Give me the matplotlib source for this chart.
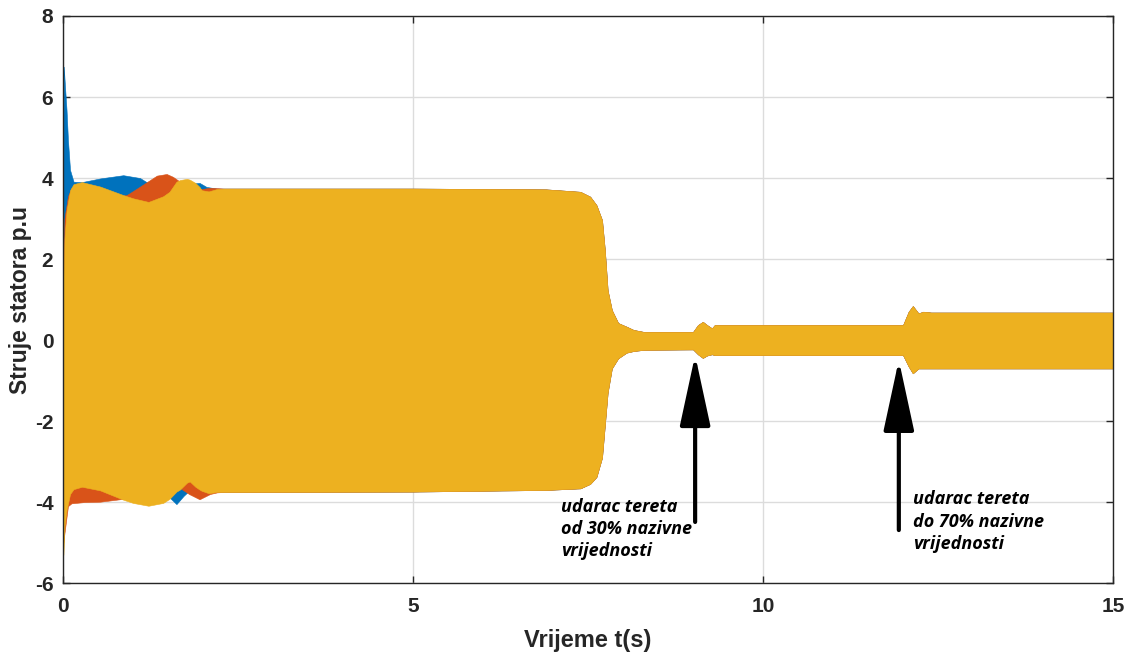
import matplotlib
matplotlib.use("Agg")
import matplotlib.pyplot as plt
import numpy as np

plt.rcParams['font.family'] = ['Liberation Sans', 'DejaVu Sans']
plt.rcParams['axes.unicode_minus'] = False

# envelopes of the three stator currents
# shared part after the start-up transient
tail_t  = [2.3, 5.0, 6.9, 7.39, 7.53, 7.62, 7.7, 7.74, 7.78, 7.84, 7.93, 8.05, 8.15, 8.3,
           9.0, 9.07, 9.14, 9.2, 9.27, 9.31, 12.0, 12.08, 12.14, 12.22, 12.29, 12.4, 15.0]
tail_up = [3.74, 3.74, 3.72, 3.66, 3.54, 3.33, 2.96, 2.22, 1.23, 0.74, 0.42, 0.33, 0.25, 0.2,
           0.2, 0.37, 0.45, 0.37, 0.29, 0.37, 0.37, 0.7, 0.84, 0.66, 0.7, 0.68, 0.68]
tail_lo = [-3.75, -3.74, -3.7, -3.66, -3.55, -3.38, -2.9, -2.1, -1.3, -0.7, -0.45, -0.31, -0.27, -0.24,
           -0.23, -0.35, -0.44, -0.38, -0.35, -0.37, -0.37, -0.65, -0.82, -0.7, -0.7, -0.7, -0.7]

# phase a (blue)
ia_t  = [0, 0.005, 0.01, 0.03, 0.05, 0.07, 0.1, 0.15, 0.27, 0.53, 0.86, 1.1, 1.22, 1.5, 1.62, 1.72, 1.8, 1.95, 2.05, 2.2]
ia_up = [1.8, 5.0, 6.75, 6.2, 5.68, 4.94, 4.2, 3.91, 3.9, 3.99, 4.07, 4.0, 3.87, 3.8, 3.78, 3.8, 3.86, 3.88, 3.78, 3.74]
ia_lo = [-1.0, -2.5, -3.5, -3.8, -3.9, -3.95, -3.95, -3.95, -3.9, -3.85, -3.8, -3.75, -3.72, -3.85, -4.05, -3.85, -3.72, -3.75, -3.75, -3.75]

# phase b (red)
ib_t  = [0, 0.005, 0.02, 0.07, 0.12, 0.3, 0.53, 0.81, 0.91, 1.1, 1.34, 1.48, 1.57, 1.67, 1.8, 1.95, 2.1, 2.2]
ib_up = [1.0, 2.0, 3.0, 3.55, 3.75, 3.85, 3.75, 3.55, 3.58, 3.79, 4.06, 4.1, 4.03, 3.91, 3.8, 3.72, 3.76, 3.75]
ib_lo = [-2.5, -5.0, -4.77, -4.1, -4.03, -4.0, -3.99, -3.93, -3.9, -3.88, -3.87, -3.8, -3.7, -3.65, -3.8, -3.93, -3.8, -3.76]

# phase c (yellow)
ic_t  = [0, 0.005, 0.02, 0.05, 0.1, 0.15, 0.27, 0.53, 0.86, 1.0, 1.22, 1.43, 1.52, 1.62, 1.67, 1.77, 1.81, 1.89, 1.95, 1.98, 2.08, 2.2]
ic_up = [0.5, 1.5, 2.5, 3.2, 3.7, 3.85, 3.9, 3.79, 3.58, 3.5, 3.41, 3.55, 3.66, 3.91, 3.95, 3.98, 3.96, 3.88, 3.78, 3.7, 3.67, 3.73]
ic_lo = [-2.0, -5.3, -4.6, -4.2, -3.8, -3.68, -3.62, -3.71, -3.94, -4.02, -4.09, -4.02, -3.92, -3.74, -3.69, -3.52, -3.49, -3.62, -3.69, -3.72, -3.78, -3.75]

phases = [(ia_t, ia_up, ia_lo, '#0072BD'),
          (ib_t, ib_up, ib_lo, '#D95319'),
          (ic_t, ic_up, ic_lo, '#EDB120')]

xticks = [0, 5, 10, 15]
yticks = [-6, -4, -2, 0, 2, 4, 6, 8]

fig = plt.figure(figsize=(11.34, 6.53), dpi=100)
ax = fig.add_axes([0.0556, 0.107, 0.9259, 0.8685])

for t, up, lo, col in phases:
    tt = np.array(t + tail_t)
    uu = np.array(up + tail_up)
    ll = np.array(lo + tail_lo)
    ax.fill_between(tt, ll, uu, color=col, linewidth=0.4, edgecolor=col)

ax.set_xlim(0, 15)
ax.set_ylim(-6, 8)
ax.set_xticks(xticks)
ax.set_yticks(yticks)
ax.set_axisbelow(True)
ax.grid(True, color='#dcdcdc', linewidth=1.0)
ax.tick_params(direction='in', top=True, right=True, length=5, width=1,
               labelsize=15, colors='#262626')
ax.tick_params(axis='x', pad=10)
ax.tick_params(axis='y', pad=7)
for lab in ax.get_xticklabels() + ax.get_yticklabels():
    lab.set_fontweight('bold')
for sp in ax.spines.values():
    sp.set_color('#262626')
    sp.set_linewidth(1.0)

ax.set_xlabel('Vrijeme t(s)', fontsize=17, fontweight='bold', color='#262626', labelpad=9)
ax.set_ylabel('Struje statora p.u', fontsize=16.5, fontweight='bold', color='#262626', labelpad=2)

# load step annotations
arrow = dict(arrowstyle='-|>,head_length=4.4,head_width=0.95', color='black',
             linewidth=3, shrinkA=0, shrinkB=0, mutation_scale=10)
ax.annotate('', xy=(9.03, -0.37), xytext=(9.03, -4.49), arrowprops=arrow)
ax.annotate('', xy=(11.94, -0.49), xytext=(11.94, -4.69), arrowprops=arrow)

txtkw = dict(fontsize=13, fontweight='bold', style='italic', va='top', ha='left',
             family=['Open Sans', 'DejaVu Sans'], linespacing=1.3)
ax.text(7.11, -3.9, 'udarac tereta\nod 30% nazivne\nvrijednosti', **txtkw)
ax.text(12.14, -3.71, 'udarac tereta\ndo 70% nazivne\nvrijednosti', **txtkw)

fig.savefig('out.png', dpi=100)
